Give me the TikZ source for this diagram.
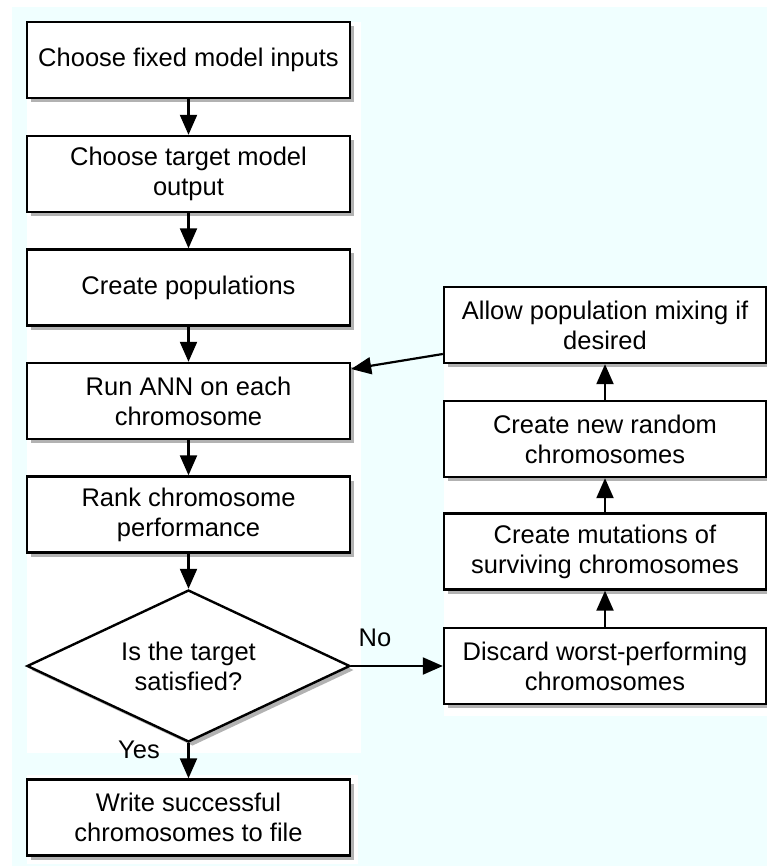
\documentclass[tikz,border=0pt]{standalone}
\usepackage{fontspec}
\setmainfont{Liberation Sans}
\usetikzlibrary{shapes.geometric,shadows,arrows.meta}
\definecolor{bgcyan}{RGB}{240,255,255}
\begin{document}
\begin{tikzpicture}[x=1pt,y=-1pt,
  stepbox/.style={draw=black, line width=2.4pt, fill=white, rectangle,
    minimum width=323pt, minimum height=76pt, inner sep=0pt, align=center,
    font=\fontsize{25.5}{30}\selectfont,
    drop shadow={shadow xshift=4pt, shadow yshift=-4pt, opacity=0.3, fill=black}},
  decision/.style={draw=black, line width=2.4pt, fill=white, diamond, aspect=2.125,
    minimum width=323pt, minimum height=152pt, inner sep=0pt, align=center,
    font=\fontsize{25.5}{30}\selectfont,
    drop shadow={shadow xshift=4pt, shadow yshift=-4pt, opacity=0.3, fill=black}},
  arr/.style={-{Triangle[length=20pt,width=17pt]}, line width=2.2pt, black},
  lbl/.style={font=\fontsize{25.5}{30}\selectfont, inner sep=0pt}]
\useasboundingbox (0,0) rectangle (767,866);
\fill[white] (0,0) rectangle (767,866);
\fill[bgcyan] (12,7) rectangle (767,866);
\fill[white] (27,22) rectangle (361,753);
\fill[white] (27,775) rectangle (358,864);
\fill[white] (444,287) rectangle (767,716);

\node[stepbox] (fixed) at (188.5,60) {\raisebox{3pt}{Choose fixed model inputs}};
\node[stepbox] (target) at (188.5,174) {Choose target model\\output};
\node[stepbox] (pops) at (188.5,287.5) {\raisebox{2pt}{Create populations}};
\node[stepbox] (run) at (188.5,401) {Run ANN on each\\chromosome};
\node[stepbox] (rank) at (188.5,514.5) {Rank chromosome\\performance};
\node[decision] (sat) at (188.5,666) {Is the target\\satisfied?};
\node[stepbox] (write) at (188.5,817.5) {Write successful\\chromosomes to file};

\node[stepbox, minimum width=322pt] (mix) at (605,325) {Allow population mixing if\\desired};
\node[stepbox, minimum width=322pt] (rand) at (605,439) {Create new random\\chromosomes};
\node[stepbox, minimum width=322pt] (mut) at (605,551.5) {Create mutations of\\surviving chromosomes};
\node[stepbox, minimum width=322pt] (disc) at (605,666) {Discard worst-performing\\chromosomes};

\draw[arr] (fixed) -- (target);
\draw[arr] (target) -- (pops);
\draw[arr] (pops) -- (run);
\draw[arr] (run) -- (rank);
\draw[arr] (rank) -- (sat);
\draw[arr] (sat) -- (write);
\draw[arr] (sat.east) -- (disc.west);
\draw[arr] (disc) -- (mut);
\draw[arr] (mut) -- (rand);
\draw[arr] (rand) -- (mix);
\draw[arr] ([yshift=-29pt]mix.west) -- ([yshift=32pt]run.east);

\node[lbl] (no) at (375,638) {No};
\node[lbl] (yes) at (139,750) {Yes};
\end{tikzpicture}
\end{document}
